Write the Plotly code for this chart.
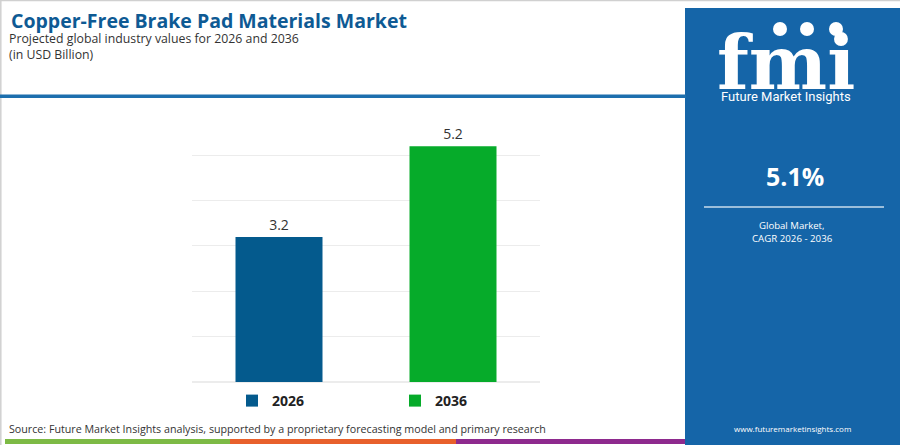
import plotly.graph_objects as go

# chart data
years = ["2026", "2036"]
values = [3.2, 5.2]
bar_colors = ["#045A8D", "#06AB2A"]
value_labels = ["3.2", "5.2"]

title = "Copper-Free Brake Pad Materials Market"
subtitle = "Projected global industry values for 2026 and 2036<br>(in USD Billion)"
cagr = "5.1%"
cagr_text = ["Global Market,", "CAGR 2026 - 2036"]
source = "Source: Future Market Insights analysis, supported by a proprietary forecasting model and primary research"

W, H = 900, 445
L, R, T, B = 192, 360, 109, 63
PW, PH = W - L - R, H - T - B
PANEL = "#1565A8"


def px(x):
    return (x - L) / PW


def py(y):
    return (H - B - y) / PH


fig = go.Figure()
for yr, v, c, lab in zip(years, values, bar_colors, value_labels):
    fig.add_trace(go.Bar(
        x=[yr], y=[v], name=yr, marker_color=c, marker_line_width=0,
        text=[lab], textposition="outside", cliponaxis=False,
        textfont=dict(size=14, color="#333333", family="Open Sans"),
        hoverinfo="skip",
    ))

shapes = []
# frame lines
shapes.append(dict(type="line", xref="paper", yref="paper", x0=px(0), x1=px(W), y0=py(0.5), y1=py(0.5),
                   line=dict(color="#d0d0d0", width=1.5)))
shapes.append(dict(type="line", xref="paper", yref="paper", x0=px(0.8), x1=px(0.8), y0=py(0), y1=py(H),
                   line=dict(color="#d0d0d0", width=1.5)))
# title underline
shapes.append(dict(type="rect", xref="paper", yref="paper", x0=px(0), x1=px(686), y0=py(98), y1=py(94.5),
                   fillcolor="#1D6FAE", line_width=0))
# right panel
shapes.append(dict(type="rect", xref="paper", yref="paper", x0=px(685), x1=px(W), y0=py(8), y1=py(H),
                   fillcolor=PANEL, line_width=0, layer="below"))
shapes.append(dict(type="line", xref="paper", yref="paper", x0=px(704), x1=px(884), y0=py(207), y1=py(207),
                   line=dict(color="#c9dcec", width=1.5)))
# globe icons of the logo
for cx in [780, 807, 836]:
    shapes.append(dict(type="circle", xref="paper", yref="paper", x0=px(cx - 7), x1=px(cx + 7),
                       y0=py(22), y1=py(36), fillcolor="white", line_width=0))
# bottom colour strip
for x0, x1, col in [(5, 230, "#7DBA45"), (230, 456, "#E8602C"), (456, 685, "#8E2A8E")]:
    shapes.append(dict(type="rect", xref="paper", yref="paper", x0=px(x0), x1=px(x1), y0=py(444), y1=py(439),
                       fillcolor=col, line_width=0))

ann = []
ann.append(dict(text=f"<b>{title}</b>", x=px(9), y=py(20), xanchor="left", yanchor="middle",
                font=dict(size=19.5, color="#0E5A94", family="Open Sans")))
ann.append(dict(text=subtitle, x=px(7), y=py(46.5), xanchor="left", yanchor="middle", align="left",
                font=dict(size=12.3, color="#333333", family="Open Sans")))
ann.append(dict(text=source, x=px(7), y=py(429), xanchor="left", yanchor="middle",
                font=dict(size=10.7, color="#333333", family="Open Sans")))
# panel text
ann.append(dict(text="<b>fmi</b>", x=px(786), y=py(63), xanchor="center", yanchor="middle",
                font=dict(size=74, color="white", family="DejaVu Serif")))
ann.append(dict(text="Future Market Insights", x=px(786), y=py(97), xanchor="center", yanchor="middle",
                font=dict(size=13, color="white", family="Roboto")))
ann.append(dict(text=f"<b>{cagr}</b>", x=px(795), y=py(176), xanchor="center", yanchor="middle",
                font=dict(size=25, color="white", family="Open Sans")))
ann.append(dict(text=cagr_text[0], x=px(792), y=py(225), xanchor="center", yanchor="middle",
                font=dict(size=9.6, color="white", family="Open Sans")))
ann.append(dict(text=cagr_text[1], x=px(792), y=py(238), xanchor="center", yanchor="middle",
                font=dict(size=9.7, color="white", family="Open Sans")))
ann.append(dict(text="www.futuremarketinsights.com", x=px(792), y=py(428), xanchor="center", yanchor="middle",
                font=dict(size=8, color="white", family="Open Sans")))
for a in ann:
    a.update(xref="paper", yref="paper", showarrow=False)

fig.update_layout(
    width=W, height=H,
    margin=dict(l=L, r=R, t=T, b=B, pad=0, autoexpand=False),
    paper_bgcolor="white", plot_bgcolor="white",
    barmode="overlay", bargap=0.5,
    showlegend=True,
    legend=dict(orientation="h", xref="container", yref="container", x=232 / W, y=1 - 401 / H,
                xanchor="left", yanchor="middle",
                entrywidth=118, entrywidthmode="pixels", itemwidth=30,
                font=dict(size=14, color="#222222", family="Open Sans", weight="bold"),
                bgcolor="rgba(0,0,0,0)"),
    xaxis=dict(showticklabels=False, showgrid=False, zeroline=False, showline=False, ticks=""),
    yaxis=dict(range=[0, 6.02], dtick=1, showticklabels=False, showgrid=True, gridcolor="#ececec",
               gridwidth=1, zeroline=True, zerolinecolor="#ececec", showline=False, ticks=""),
    shapes=shapes, annotations=ann,
    font=dict(family="Open Sans"),
)

fig.write_html("out.html", config={"displayModeBar": False},
               post_script="document.body.style.margin='0';")
